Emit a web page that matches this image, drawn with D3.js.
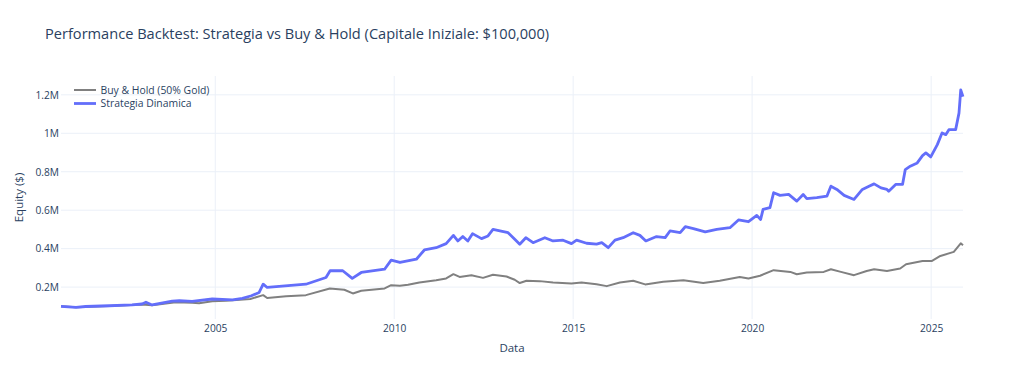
<!DOCTYPE html>
<html>
<head>
<meta charset="utf-8">
<script src="https://cdn.jsdelivr.net/npm/d3@7"></script>
<style>
  html, body { margin: 0; padding: 0; background: #fff; }
  svg { display: block; font-family: "Open Sans", Verdana, Arial, sans-serif; }
</style>
</head>
<body>
<svg id="chart" width="1024" height="382"></svg>
<script>
// ---- Data ----
const titleText = "Performance Backtest: Strategia vs Buy & Hold (Capitale Iniziale: $100,000)";
const seriesNames = ["Buy & Hold (50% Gold)", "Strategia Dinamica"];

const bhDates = ["2000-09-10","2001-02-10","2002-01-15","2002-12-15","2003-03-28","2003-11-25","2004-05-10","2004-07-20","2004-12-01","2005-04-20","2005-12-25","2006-05-05","2006-06-15","2006-12-25","2007-07-15","2008-03-15","2008-08-10","2008-11-05","2009-01-30","2009-09-25","2009-12-01","2010-02-28","2010-05-22","2010-09-15","2011-03-05","2011-06-15","2011-08-28","2011-10-30","2012-02-28","2012-06-25","2012-10-05","2013-02-20","2013-05-15","2013-07-05","2013-09-12","2014-01-25","2014-06-10","2014-12-15","2015-03-28","2015-08-28","2015-12-10","2016-04-22","2016-09-05","2017-01-05","2017-07-08","2018-01-30","2018-08-20","2019-02-05","2019-08-28","2019-11-25","2020-03-22","2020-08-08","2021-01-25","2021-04-01","2021-07-12","2022-01-01","2022-03-15","2022-06-25","2022-11-06","2023-03-15","2023-05-30","2023-10-08","2024-02-20","2024-04-20","2024-10-05","2025-01-10","2025-04-05","2025-08-20","2025-10-30","2025-11-22"];
const bhValues = [100,95,102,110,106,121,119,116,126,129,138,158,143,152,158,193,186,167,181,193,210,207,212,224,236,245,267,253,262,248,264,255,238,221,233,231,224,219,224,215,205,224,233,214,228,236,221,233,253,245,259,288,279,267,276,279,293,279,262,284,293,284,297,319,336,336,362,383,428,418];

const stDates = ["2000-09-10","2001-02-10","2001-05-20","2002-01-15","2002-09-05","2002-12-15","2003-01-25","2003-03-28","2003-10-20","2004-01-01","2004-05-10","2004-12-01","2005-06-25","2005-10-05","2006-01-05","2006-03-25","2006-05-05","2006-06-15","2006-10-15","2007-07-15","2008-02-05","2008-03-18","2008-07-25","2008-10-30","2009-01-30","2009-09-25","2009-12-01","2010-03-01","2010-08-15","2010-11-05","2011-03-05","2011-06-15","2011-08-28","2011-10-12","2011-12-02","2012-01-22","2012-03-10","2012-06-10","2012-08-15","2012-10-05","2012-12-15","2013-03-08","2013-05-15","2013-07-05","2013-09-05","2013-11-18","2014-03-18","2014-06-10","2014-09-20","2014-12-15","2015-02-05","2015-05-18","2015-08-28","2015-10-20","2015-12-25","2016-03-03","2016-05-25","2016-09-05","2016-11-12","2017-01-12","2017-05-01","2017-07-28","2017-09-15","2017-12-28","2018-02-18","2018-05-12","2018-09-10","2019-01-05","2019-05-20","2019-08-15","2019-11-25","2020-02-18","2020-03-28","2020-04-22","2020-07-01","2020-08-08","2020-10-12","2021-01-08","2021-04-01","2021-06-05","2021-07-12","2021-10-22","2022-02-02","2022-03-15","2022-05-15","2022-07-28","2022-11-06","2023-01-30","2023-04-08","2023-05-30","2023-08-08","2023-10-08","2023-10-26","2024-01-05","2024-03-15","2024-04-12","2024-06-02","2024-08-12","2024-10-05","2024-11-08","2024-12-28","2025-03-05","2025-04-22","2025-05-30","2025-07-01","2025-09-08","2025-10-12","2025-10-30","2025-11-22"];
const stValues = [100,94,99,103,107,112,121,107,127,129,126,138,134,141,155,172,215,198,204,215,250,285,285,245,276,293,340,328,345,393,405,426,469,440,463,440,478,452,466,500,492,483,449,423,457,431,457,440,444,426,444,428,423,431,405,444,457,483,469,440,463,457,492,483,514,504,487,500,509,549,540,573,552,604,613,691,677,682,647,682,660,665,673,725,708,677,656,708,725,737,716,708,699,734,734,811,829,846,884,898,877,941,1002,993,1019,1019,1105,1226,1191];

const yTicks = [200000, 400000, 600000, 800000, 1000000, 1200000];
const xTickYears = [2005, 2010, 2015, 2020, 2025];
const yDomain = [34000, 1298000];
const axisTitles = { x: "Data", y: "Equity ($)" };

// ---- Layout ----
const W = 1024, H = 382;
const plot = { left: 61, right: 963, top: 76, bottom: 319 };
const textColor = "#2a3f5f";
const gridColor = "#ebf0f8";
const colors = ["#808080", "#636efa"];
const widths = [2, 2.8];

const parse = d3.timeParse("%Y-%m-%d");
const bh = bhDates.map((d, i) => ({ date: parse(d), value: bhValues[i] * 1000 }));
const st = stDates.map((d, i) => ({ date: parse(d), value: stValues[i] * 1000 }));

const svg = d3.select("#chart");
svg.append("rect").attr("width", W).attr("height", H).attr("fill", "#fff");

const x = d3.scaleTime()
  .domain([parse(stDates[0]), parse(stDates[stDates.length - 1])])
  .range([plot.left, plot.right]);
const y = d3.scaleLinear().domain(yDomain).range([plot.bottom, plot.top]);

// Gridlines
const g = svg.append("g");
g.selectAll("line.vg").data(xTickYears).join("line")
  .attr("x1", d => x(new Date(d, 0, 1))).attr("x2", d => x(new Date(d, 0, 1)))
  .attr("y1", plot.top).attr("y2", plot.bottom)
  .attr("stroke", gridColor).attr("stroke-width", 1);
g.selectAll("line.hg").data(yTicks).join("line")
  .attr("x1", plot.left).attr("x2", plot.right)
  .attr("y1", d => y(d)).attr("y2", d => y(d))
  .attr("stroke", gridColor).attr("stroke-width", 1);

// Axes
const xAxis = d3.axisBottom(x)
  .tickValues(xTickYears.map(yr => new Date(yr, 0, 1)))
  .tickFormat(d3.timeFormat("%Y"))
  .tickSize(0).tickPadding(6);
const xg = svg.append("g").attr("transform", `translate(0,${plot.bottom})`).call(xAxis);
xg.select(".domain").remove();
xg.selectAll("text").attr("fill", textColor).style("font-size", "10.2px")
  .style("font-family", '"Open Sans", Verdana, Arial, sans-serif');

const yAxis = d3.axisLeft(y)
  .tickValues(yTicks)
  .tickFormat(v => (v / 1e6) + "M")
  .tickSize(0).tickPadding(2);
const yg = svg.append("g").attr("transform", `translate(${plot.left},0)`).call(yAxis);
yg.select(".domain").remove();
yg.selectAll("text").attr("fill", textColor).style("font-size", "10.2px")
  .style("font-family", '"Open Sans", Verdana, Arial, sans-serif');

// Lines
const line = d3.line().x(d => x(d.date)).y(d => y(d.value));
svg.append("g").selectAll("path.series")
  .data([bh, st]).join("path")
  .attr("d", line)
  .attr("fill", "none")
  .attr("stroke", (d, i) => colors[i])
  .attr("stroke-width", (d, i) => widths[i])
  .attr("stroke-linejoin", "round");

// Title
svg.append("text").attr("x", 45).attr("y", 39)
  .attr("fill", textColor).style("font-size", "14.6px")
  .text(titleText);

// Axis titles
svg.append("text").attr("x", (plot.left + plot.right) / 2).attr("y", 352)
  .attr("text-anchor", "middle").attr("fill", textColor).style("font-size", "11.5px")
  .text(axisTitles.x);
svg.append("text").attr("transform", `translate(23,${(plot.top + plot.bottom) / 2}) rotate(-90)`)
  .attr("text-anchor", "middle").attr("fill", textColor).style("font-size", "11.5px")
  .text(axisTitles.y);

// Legend
const lg = svg.append("g");
seriesNames.forEach((name, i) => {
  const ly = 90 + i * 13.5;
  lg.append("line").attr("x1", 74).attr("x2", 96).attr("y1", ly).attr("y2", ly)
    .attr("stroke", colors[i]).attr("stroke-width", widths[i]);
  lg.append("text").attr("x", 100.5).attr("y", ly).attr("dy", "0.35em")
    .attr("fill", textColor).style("font-size", "10.4px").text(name);
});
</script>
</body>
</html>
